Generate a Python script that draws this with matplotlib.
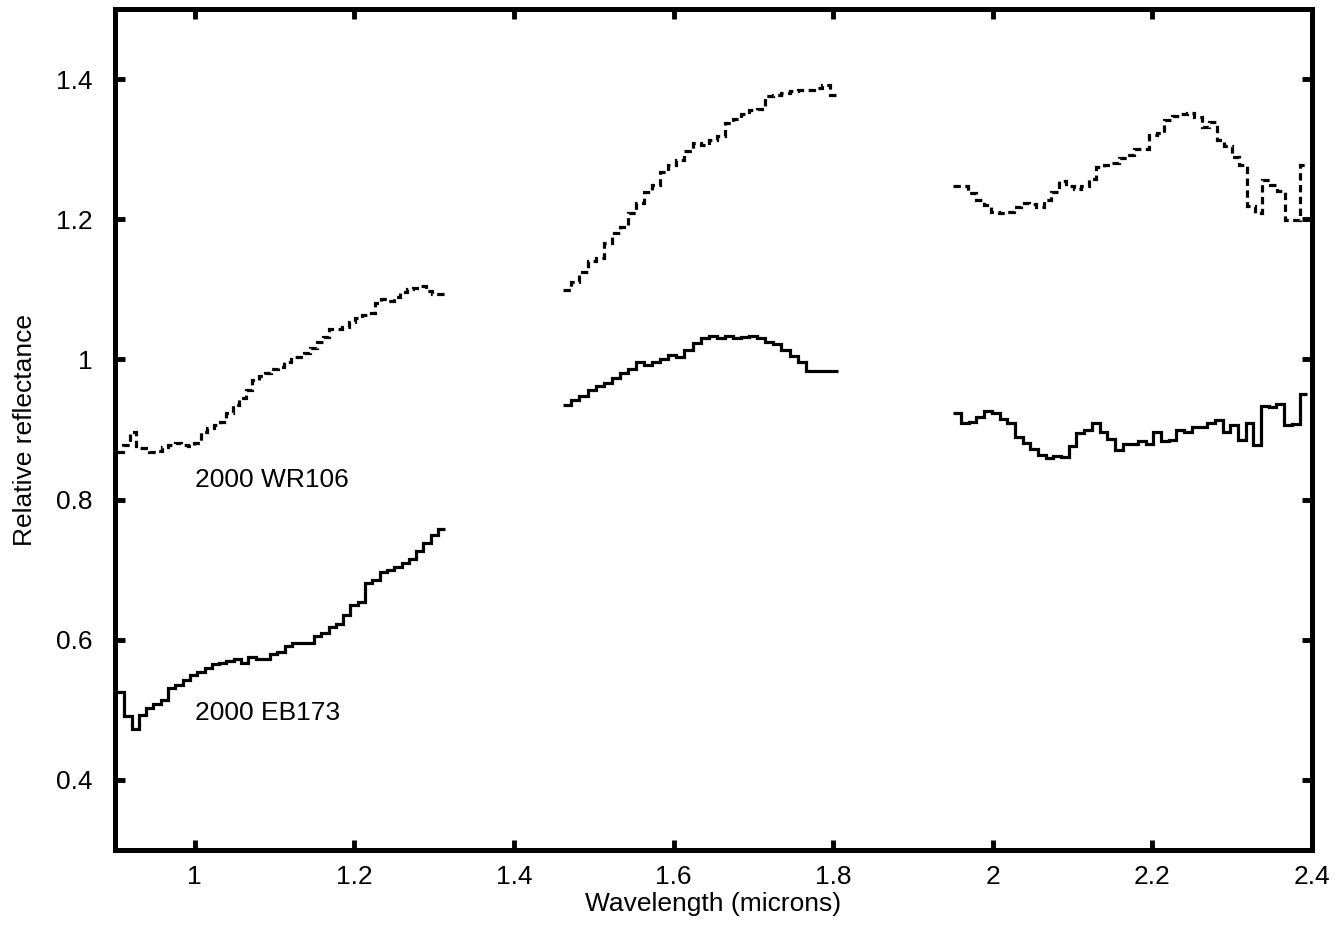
import numpy as np
from matplotlib import pyplot as plt

plt.rcParams['font.family'] = ['Liberation Sans', 'DejaVu Sans']

# 2000 EB173 (solid), three spectral windows
eb_seg1 = [0.526, 0.491, 0.473, 0.493, 0.503, 0.509, 0.514, 0.531, 0.535, 0.543,
           0.550, 0.554, 0.560, 0.566, 0.567, 0.570, 0.573, 0.567, 0.576, 0.573,
           0.572, 0.580, 0.583, 0.591, 0.595, 0.595, 0.596, 0.606, 0.610, 0.618,
           0.622, 0.635, 0.650, 0.654, 0.681, 0.685, 0.696, 0.700, 0.704, 0.710,
           0.715, 0.727, 0.738, 0.750, 0.758]
eb_seg2 = [0.935, 0.942, 0.948, 0.957, 0.962, 0.967, 0.973, 0.980, 0.986, 0.997,
           0.992, 0.996, 1.000, 1.006, 1.003, 1.014, 1.023, 1.030, 1.034, 1.030,
           1.034, 1.031, 1.032, 1.034, 1.030, 1.025, 1.022, 1.013, 1.005, 0.997,
           0.983, 0.984, 0.984, 0.984]
eb_seg3 = [0.923, 0.909, 0.911, 0.918, 0.927, 0.924, 0.915, 0.909, 0.889, 0.881,
           0.872, 0.864, 0.859, 0.862, 0.861, 0.877, 0.895, 0.899, 0.910, 0.896,
           0.886, 0.871, 0.880, 0.879, 0.884, 0.879, 0.896, 0.884, 0.885, 0.899,
           0.897, 0.904, 0.903, 0.909, 0.914, 0.897, 0.907, 0.885, 0.910, 0.878,
           0.934, 0.932, 0.937, 0.907, 0.908, 0.951]

# 2000 WR106 (dashed)
wr_seg1 = [0.868, 0.878, 0.897, 0.874, 0.873, 0.868, 0.870, 0.875, 0.878, 0.881,
           0.878, 0.876, 0.881, 0.897, 0.902, 0.907, 0.911, 0.924, 0.935, 0.945,
           0.957, 0.971, 0.976, 0.981, 0.986, 0.989, 0.996, 1.004, 1.004, 1.009,
           1.016, 1.025, 1.032, 1.043, 1.043, 1.046, 1.053, 1.059, 1.063, 1.066,
           1.081, 1.086, 1.083, 1.089, 1.096, 1.100, 1.102, 1.105, 1.098, 1.093,
           1.093]
wr_seg2 = [1.099, 1.110, 1.125, 1.140, 1.145, 1.166, 1.180, 1.189, 1.209, 1.223,
           1.239, 1.249, 1.268, 1.277, 1.285, 1.298, 1.309, 1.306, 1.313, 1.319,
           1.337, 1.343, 1.350, 1.356, 1.357, 1.376, 1.377, 1.380, 1.383, 1.385,
           1.384, 1.387, 1.392, 1.377]
wr_seg3 = [1.248, 1.248, 1.238, 1.228, 1.220, 1.211, 1.209, 1.211, 1.218, 1.223,
           1.222, 1.218, 1.228, 1.239, 1.254, 1.247, 1.243, 1.247, 1.258, 1.274,
           1.277, 1.280, 1.287, 1.292, 1.300, 1.300, 1.320, 1.323, 1.342, 1.347,
           1.350, 1.352, 1.346, 1.332, 1.339, 1.313, 1.304, 1.289, 1.277, 1.219,
           1.209, 1.256, 1.249, 1.241, 1.199, 1.199, 1.277]

# wavelength range (microns) covered by each window
windows = [(0.9025, 1.3140), (1.4618, 1.8060), (1.9506, 2.3940)]

xticks = [1, 1.2, 1.4, 1.6, 1.8, 2, 2.2, 2.4]
xlabels = ['1', '1.2', '1.4', '1.6', '1.8', '2', '2.2', '2.4']
yticks = [0.4, 0.6, 0.8, 1.0, 1.2, 1.4]
ylabels = ['0.4', '0.6', '0.8', '1', '1.2', '1.4']

fig = plt.figure(figsize=(13.38, 9.32), dpi=100)
ax = fig.add_axes([0.0859, 0.088, 0.8947, 0.9023])

for vals, (lo, hi) in zip([eb_seg1, eb_seg2, eb_seg3], windows):
    edges = np.linspace(lo, hi, len(vals) + 1)
    ax.stairs(vals, edges, baseline=None, color='black', linewidth=2.3)

for vals, (lo, hi) in zip([wr_seg1, wr_seg2, wr_seg3], windows):
    edges = np.linspace(lo, hi, len(vals) + 1)
    ax.stairs(vals, edges, baseline=None, color='black', linewidth=2.3,
              linestyle=(0, (2.3, 1.4)))

ax.text(1.0, 0.828, '2000 WR106', fontsize=19, va='center', ha='left')
ax.text(1.0, 0.496, '2000 EB173', fontsize=19, va='center', ha='left')

ax.set_xlim(0.9, 2.4)
ax.set_ylim(0.3, 1.5)
ax.set_xticks(xticks)
ax.set_xticklabels(xlabels)
ax.set_yticks(yticks)
ax.set_yticklabels(ylabels)
ax.tick_params(direction='in', length=7, width=3.5, top=True, right=True,
               labelsize=19)
ax.tick_params(axis='x', pad=11)
ax.tick_params(axis='y', pad=16)
for sp in ax.spines.values():
    sp.set_linewidth(3.6)

ax.set_xlabel('Wavelength (microns)', fontsize=19, labelpad=2)
ax.set_ylabel('Relative reflectance', fontsize=19, labelpad=14)

fig.savefig('out.png', dpi=100)
